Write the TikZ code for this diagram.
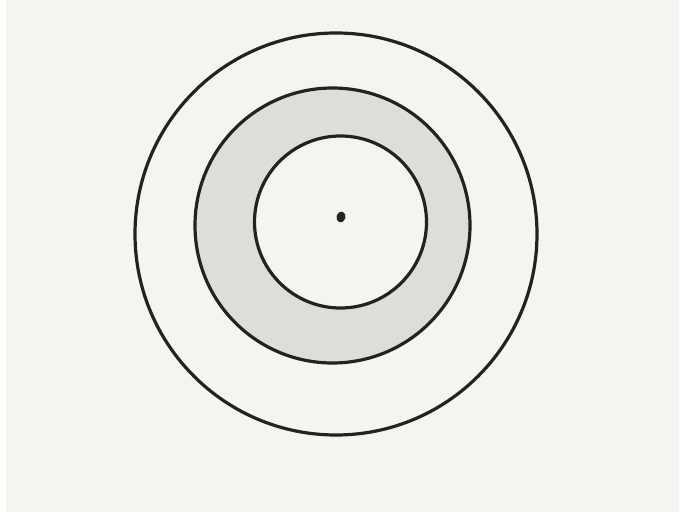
\documentclass[tikz,border=0pt]{standalone}
\usepackage{xcolor}
\usepackage{tikz}
\usetikzlibrary{positioning, shapes.geometric}
\definecolor{paperbg}{HTML}{F5F4F0}
\definecolor{ringgray}{HTML}{DEDDD9}
\definecolor{inkdark}{HTML}{222222}

\begin{document}
\begin{tikzpicture}[
    x=1bp, y=-1bp,
    ring/.style={draw=inkdark, circle, line width=3.2bp, inner sep=0pt, outer sep=0pt},
    centredot/.style={fill=inkdark, ellipse, inner sep=0pt},
]

% Page and paper
\useasboundingbox[fill=white] (0,0) rectangle (682,512);
\fill[paperbg] (6,0) rectangle (679,512);

% Rings
\node[ring, minimum size=402bp] (outer) at (336,234) {};
\node[ring, fill=ringgray, minimum size=275bp] (middle) at (332.5,225.5) {};
\node[ring, fill=paperbg, minimum size=172bp] (inner) at (340.5,222) {};

% Centre mark
\node[centredot, minimum width=9bp, minimum height=11bp, rotate=-15] (dot) at (341,217) {};

\end{tikzpicture}
\end{document}
